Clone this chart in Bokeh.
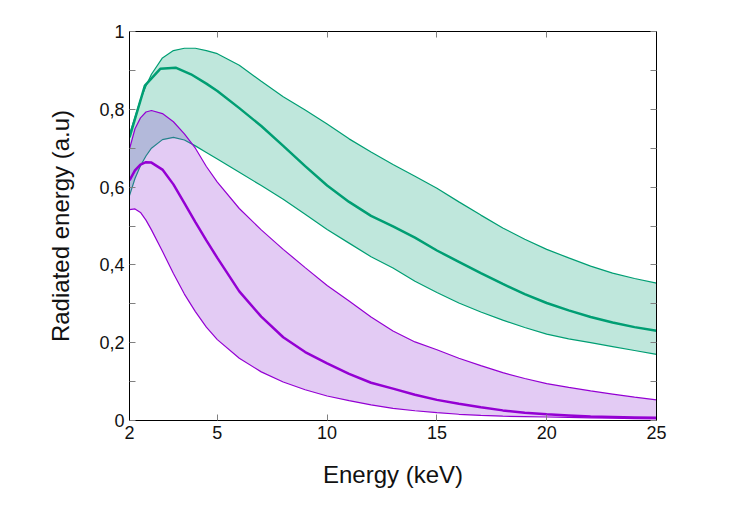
from bokeh.plotting import figure
from bokeh.models import LinearAxis, FixedTicker, Range1d
from bokeh.embed import file_html
from bokeh.resources import INLINE

# ---- data ----
band_x = [1, 1.25, 1.5, 1.75, 2, 2.5, 3, 3.5, 4, 4.5, 5, 6, 7, 8, 9, 10, 11, 12,
          13, 14, 15, 16, 17, 18, 19, 20, 21, 22, 23, 24, 25]

green_upper = [0.735, 0.780, 0.825, 0.860, 0.890, 0.932, 0.951, 0.957, 0.957, 0.951,
               0.943, 0.913, 0.872, 0.832, 0.798, 0.762, 0.724, 0.690, 0.658, 0.628,
               0.597, 0.562, 0.528, 0.495, 0.466, 0.440, 0.418, 0.397, 0.379, 0.365, 0.353]
green_lower = [0.578, 0.622, 0.655, 0.680, 0.700, 0.722, 0.728, 0.721, 0.706, 0.689,
               0.672, 0.638, 0.604, 0.569, 0.530, 0.491, 0.456, 0.421, 0.392, 0.358,
               0.329, 0.302, 0.279, 0.258, 0.239, 0.222, 0.210, 0.200, 0.190, 0.180, 0.170]

green_mean_x = [1, 1.7, 2.4, 3.1, 3.8, 4.5, 5, 6, 7, 8, 9, 10, 11, 12, 13, 14, 15,
                16, 17, 18, 19, 20, 21, 22, 23, 24, 25]
green_mean = [0.728, 0.861, 0.904, 0.907, 0.890, 0.866, 0.847, 0.803, 0.757, 0.706,
              0.654, 0.604, 0.562, 0.526, 0.499, 0.470, 0.437, 0.408, 0.379, 0.351,
              0.325, 0.302, 0.283, 0.266, 0.252, 0.240, 0.231]

purple_upper = [0.698, 0.750, 0.778, 0.793, 0.797, 0.789, 0.768, 0.737, 0.700, 0.653,
                0.613, 0.545, 0.490, 0.440, 0.393, 0.347, 0.307, 0.266, 0.230, 0.202,
                0.182, 0.160, 0.141, 0.123, 0.108, 0.095, 0.085, 0.076, 0.068, 0.060, 0.053]
purple_mean = [0.617, 0.643, 0.658, 0.664, 0.663, 0.645, 0.607, 0.559, 0.510, 0.463,
               0.418, 0.332, 0.267, 0.214, 0.176, 0.147, 0.120, 0.097, 0.082, 0.066,
               0.053, 0.043, 0.034, 0.026, 0.020, 0.016, 0.013, 0.010, 0.009, 0.008, 0.007]
purple_lower = [0.542, 0.544, 0.535, 0.515, 0.490, 0.435, 0.378, 0.325, 0.280, 0.240,
                0.208, 0.160, 0.125, 0.099, 0.079, 0.063, 0.051, 0.040, 0.031, 0.025,
                0.020, 0.016, 0.013, 0.011, 0.010, 0.009, 0.008, 0.007, 0.006, 0.005, 0.004]

x_ticks = [1, 5, 10, 15, 20, 25]
x_tick_labels = ["2", "5", "10", "15", "20", "25"]
y_ticks = [0, 0.2, 0.4, 0.6, 0.8, 1.0]
y_tick_labels = ["0", "0,2", "0,4", "0,6", "0,8", "1"]
y_minor = [0.1, 0.3, 0.5, 0.7, 0.9]

GREEN = "#009e73"
PURPLE = "#9400d3"
PURPLE_FILL = "#8f2fd3"
FONT = "Liberation Sans"
TICK_COL = "#808080"

p = figure(width=731, height=512, output_backend="svg", toolbar_location=None,
           x_range=Range1d(1, 25), y_range=Range1d(0, 1),
           min_border_left=129, min_border_right=75, min_border_top=31,
           min_border_bottom=92)
p.background_fill_color = "white"
p.border_fill_color = "white"
p.outline_line_color = "black"
p.outline_line_width = 1
p.xgrid.visible = False
p.ygrid.visible = False

# green band
p.varea(x=band_x, y1=green_lower, y2=green_upper, fill_color=GREEN, fill_alpha=0.25)
p.line(band_x, green_upper, line_color=GREEN, line_width=1.2)
p.line(band_x, green_lower, line_color=GREEN, line_width=1.2)
p.line(green_mean_x, green_mean, line_color=GREEN, line_width=2.5)

# purple band
p.varea(x=band_x, y1=purple_lower, y2=purple_upper, fill_color=PURPLE_FILL, fill_alpha=0.25)
p.line(band_x, purple_upper, line_color=PURPLE, line_width=1.2)
p.line(band_x, purple_lower, line_color=PURPLE, line_width=1.2)
p.line(band_x, purple_mean, line_color=PURPLE, line_width=2.5)

xt = FixedTicker(ticks=x_ticks)
yt = FixedTicker(ticks=y_ticks, minor_ticks=y_minor)


def style(ax, labels):
    ax.axis_line_color = "black"
    ax.axis_line_width = 1
    ax.major_tick_in = 6
    ax.major_tick_out = 0
    ax.minor_tick_in = 6
    ax.minor_tick_out = 0
    ax.major_tick_line_color = TICK_COL
    ax.minor_tick_line_color = TICK_COL
    if labels:
        ax.major_label_text_font = FONT
        ax.major_label_text_font_size = "18px"
        ax.major_label_text_color = "#111111"
        ax.axis_label_text_font = FONT
        ax.axis_label_text_font_size = "24px"
        ax.axis_label_text_font_style = "normal"
        ax.axis_label_text_color = "#111111"
    else:
        ax.major_label_text_color = None
        ax.major_label_standoff = 0


xa = p.xaxis[0]
xa.ticker = xt
xa.major_label_overrides = dict(zip(x_ticks, x_tick_labels))
xa.axis_label = "Energy (keV)"
style(xa, True)
xa.minor_tick_line_color = None
xa.major_label_standoff = 5
xa.axis_label_standoff = 19

ya = p.yaxis[0]
ya.ticker = yt
ya.major_label_overrides = dict(zip(y_ticks, y_tick_labels))
ya.axis_label = "Radiated energy (a.u)"
style(ya, True)
ya.major_label_standoff = 5
ya.axis_label_standoff = 22

top = LinearAxis(ticker=FixedTicker(ticks=x_ticks))
style(top, False)
top.minor_tick_line_color = None
p.add_layout(top, "above")

right = LinearAxis(ticker=FixedTicker(ticks=y_ticks, minor_ticks=y_minor))
style(right, False)
p.add_layout(right, "right")

open("out.html", "w").write(file_html(p, INLINE))
